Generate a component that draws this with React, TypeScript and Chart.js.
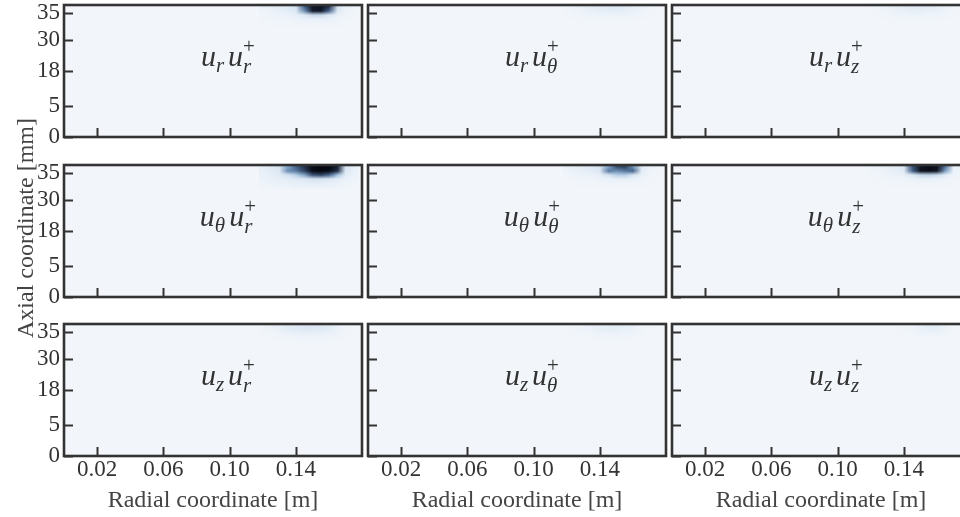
import { useEffect, useRef } from "react";
import { Chart, registerables } from "chart.js";

Chart.register(...registerables);

// Axis ticks
const radialTicks = [0.02, 0.06, 0.1, 0.14];
const axialTickPos = [0, 0.235, 0.5, 0.737, 0.94];
const axialTickLabels = ["0", "5", "18", "30", "35"];

// Sampling grid of the Reynolds-stress field near the top wall (cell centres)
const fieldR = [0.12, 0.125, 0.13, 0.135, 0.14, 0.145, 0.15, 0.155, 0.16, 0.165, 0.17, 0.175];
const fieldZ = [0.985, 0.955, 0.925, 0.895, 0.865, 0.835];

// Velocity components (rows: first factor, columns: second factor)
const components = ["r", "θ", "z"];

// Normalised intensities, one row per fieldZ entry, one column per fieldR entry
const urur = [
  [0.03, 0.05, 0.07, 0.1, 0.15, 0.55, 0.85, 0.9, 0.7, 0.15, 0.04, 0.02],
  [0.02, 0.03, 0.05, 0.07, 0.12, 0.45, 0.8, 0.85, 0.55, 0.1, 0.03, 0.01],
  [0.01, 0.02, 0.03, 0.04, 0.06, 0.12, 0.2, 0.2, 0.12, 0.05, 0.02, 0.01],
  [0.01, 0.01, 0.02, 0.02, 0.03, 0.04, 0.05, 0.05, 0.04, 0.02, 0.01, 0],
  [0, 0, 0.01, 0.01, 0.01, 0.02, 0.02, 0.02, 0.02, 0.01, 0, 0],
  [0, 0, 0, 0, 0, 0, 0, 0, 0, 0, 0, 0],
];
const urut = [
  [0.01, 0.03, 0.05, 0.07, 0.08, 0.09, 0.1, 0.09, 0.06, 0.03, 0.01, 0],
  [0.01, 0.02, 0.03, 0.05, 0.06, 0.07, 0.07, 0.06, 0.04, 0.02, 0.01, 0],
  [0, 0.01, 0.02, 0.02, 0.03, 0.03, 0.03, 0.03, 0.02, 0.01, 0, 0],
  [0, 0, 0.01, 0.01, 0.01, 0.01, 0.01, 0.01, 0.01, 0, 0, 0],
  [0, 0, 0, 0, 0, 0, 0, 0, 0, 0, 0, 0],
  [0, 0, 0, 0, 0, 0, 0, 0, 0, 0, 0, 0],
];
const uruz = [
  [0, 0.01, 0.03, 0.05, 0.07, 0.08, 0.09, 0.08, 0.06, 0.03, 0.01, 0],
  [0, 0.01, 0.02, 0.04, 0.05, 0.06, 0.06, 0.05, 0.04, 0.02, 0.01, 0],
  [0, 0, 0.01, 0.02, 0.02, 0.03, 0.03, 0.02, 0.02, 0.01, 0, 0],
  [0, 0, 0, 0.01, 0.01, 0.01, 0.01, 0.01, 0.01, 0, 0, 0],
  [0, 0, 0, 0, 0, 0, 0, 0, 0, 0, 0, 0],
  [0, 0, 0, 0, 0, 0, 0, 0, 0, 0, 0, 0],
];
const utur = [
  [0.06, 0.1, 0.15, 0.4, 0.55, 0.7, 0.95, 1.0, 1.0, 0.75, 0.15, 0.05],
  [0.05, 0.08, 0.12, 0.45, 0.5, 0.65, 0.95, 1.0, 0.95, 0.7, 0.12, 0.04],
  [0.04, 0.06, 0.09, 0.15, 0.25, 0.4, 0.6, 0.65, 0.55, 0.3, 0.08, 0.03],
  [0.03, 0.05, 0.06, 0.08, 0.1, 0.12, 0.15, 0.15, 0.12, 0.08, 0.04, 0.02],
  [0.02, 0.03, 0.04, 0.05, 0.06, 0.07, 0.08, 0.08, 0.06, 0.04, 0.02, 0.01],
  [0.01, 0.01, 0.02, 0.02, 0.03, 0.03, 0.03, 0.03, 0.03, 0.02, 0.01, 0],
];
const utut = [
  [0.03, 0.06, 0.08, 0.1, 0.14, 0.4, 0.6, 0.65, 0.45, 0.1, 0.03, 0.01],
  [0.02, 0.04, 0.06, 0.08, 0.12, 0.5, 0.45, 0.5, 0.55, 0.08, 0.02, 0.01],
  [0.01, 0.02, 0.03, 0.04, 0.06, 0.15, 0.25, 0.25, 0.15, 0.05, 0.01, 0],
  [0, 0.01, 0.02, 0.02, 0.03, 0.04, 0.05, 0.05, 0.04, 0.02, 0.01, 0],
  [0, 0, 0.01, 0.01, 0.01, 0.02, 0.02, 0.02, 0.01, 0.01, 0, 0],
  [0, 0, 0, 0, 0, 0, 0, 0, 0, 0, 0, 0],
];
const utuz = [
  [0.02, 0.03, 0.05, 0.07, 0.12, 0.6, 0.85, 0.95, 0.9, 0.5, 0.05, 0.01],
  [0.01, 0.02, 0.04, 0.06, 0.1, 0.55, 0.9, 0.95, 0.85, 0.4, 0.04, 0.01],
  [0.01, 0.01, 0.02, 0.03, 0.05, 0.12, 0.2, 0.22, 0.18, 0.08, 0.02, 0],
  [0, 0.01, 0.01, 0.02, 0.02, 0.03, 0.05, 0.05, 0.04, 0.02, 0.01, 0],
  [0, 0, 0, 0.01, 0.01, 0.01, 0.02, 0.02, 0.01, 0.01, 0, 0],
  [0, 0, 0, 0, 0, 0, 0, 0, 0, 0, 0, 0],
];
const uzur = [
  [0.01, 0.03, 0.06, 0.08, 0.1, 0.12, 0.12, 0.11, 0.08, 0.04, 0.01, 0],
  [0.01, 0.02, 0.05, 0.07, 0.09, 0.1, 0.1, 0.09, 0.07, 0.03, 0.01, 0],
  [0, 0.01, 0.02, 0.03, 0.04, 0.05, 0.05, 0.04, 0.03, 0.02, 0, 0],
  [0, 0, 0.01, 0.01, 0.02, 0.02, 0.02, 0.02, 0.01, 0.01, 0, 0],
  [0, 0, 0, 0, 0, 0.01, 0.01, 0.01, 0, 0, 0, 0],
  [0, 0, 0, 0, 0, 0, 0, 0, 0, 0, 0, 0],
];
const uzut = [
  [0, 0.01, 0.02, 0.04, 0.06, 0.07, 0.08, 0.07, 0.05, 0.02, 0.01, 0],
  [0, 0.01, 0.02, 0.03, 0.05, 0.06, 0.06, 0.05, 0.04, 0.02, 0, 0],
  [0, 0, 0.01, 0.01, 0.02, 0.02, 0.03, 0.02, 0.02, 0.01, 0, 0],
  [0, 0, 0, 0, 0.01, 0.01, 0.01, 0.01, 0, 0, 0, 0],
  [0, 0, 0, 0, 0, 0, 0, 0, 0, 0, 0, 0],
  [0, 0, 0, 0, 0, 0, 0, 0, 0, 0, 0, 0],
];
const uzuz = [
  [0, 0, 0, 0, 0.01, 0.02, 0.05, 0.08, 0.07, 0.03, 0, 0],
  [0, 0, 0, 0, 0.01, 0.02, 0.04, 0.06, 0.05, 0.02, 0, 0],
  [0, 0, 0, 0, 0, 0.01, 0.02, 0.02, 0.02, 0.01, 0, 0],
  [0, 0, 0, 0, 0, 0, 0, 0, 0, 0, 0, 0],
  [0, 0, 0, 0, 0, 0, 0, 0, 0, 0, 0, 0],
  [0, 0, 0, 0, 0, 0, 0, 0, 0, 0, 0, 0],
];

const fields = [
  [urur, urut, uruz],
  [utur, utut, utuz],
  [uzur, uzut, uzuz],
];

// Figure geometry
const COL_LEFT = [64, 368, 672];
const ROW_TOP = [5, 165, 324];
const PANEL_W = 298;
const PANEL_H = 132;

const SERIF = "'Liberation Serif', 'DejaVu Serif', serif";
const INK = "#333333";
const TITLE_INK = "#444444";
const BG: [number, number, number] = [242, 246, 251];

// Sequential blue-to-black colour ramp
const ramp: [number, [number, number, number]][] = [
  [0, BG],
  [0.15, [214, 228, 242]],
  [0.35, [150, 185, 218]],
  [0.55, [70, 100, 140]],
  [0.75, [25, 35, 55]],
  [1, [5, 8, 15]],
];

function shade(v: number): [number, number, number] {
  const t = Math.max(0, Math.min(1, v));
  for (let i = 1; i < ramp.length; i++) {
    const [t1, c1] = ramp[i];
    const [t0, c0] = ramp[i - 1];
    if (t <= t1) {
      const f = (t - t0) / (t1 - t0);
      return [0, 1, 2].map((k) => Math.round(c0[k] + (c1[k] - c0[k]) * f)) as [number, number, number];
    }
  }
  return ramp[ramp.length - 1][1];
}

function drawMathLabel(ctx: CanvasRenderingContext2D, cx: number, base: number, a: string, b: string) {
  const main = `italic 30px ${SERIF}`;
  const sub = `italic 21px ${SERIF}`;
  const supF = `21px ${SERIF}`;
  ctx.font = main;
  const wu = ctx.measureText("u").width;
  ctx.font = sub;
  const wa = ctx.measureText(a).width;
  const wb = ctx.measureText(b).width;
  ctx.font = supF;
  const wp = ctx.measureText("+").width;
  const gap = 4;
  const total = wu + wa + gap + wu + Math.max(wb, wp);
  let x = cx - total / 2;
  ctx.fillStyle = INK;
  ctx.textBaseline = "alphabetic";
  ctx.textAlign = "left";
  ctx.font = main;
  ctx.fillText("u", x, base);
  x += wu;
  ctx.font = sub;
  ctx.fillText(a, x, base + 6);
  x += wa + gap;
  ctx.font = main;
  ctx.fillText("u", x, base);
  x += wu;
  ctx.font = sub;
  ctx.fillText(b, x, base + 7);
  ctx.font = supF;
  ctx.fillText("+", x, base - 13);
}

function Panel({ row, col }: { row: number; col: number }) {
  const ref = useRef<HTMLCanvasElement | null>(null);
  const padL = col === 0 ? 64 : 4;
  const padB = row === 2 ? 62 : 6;
  // room around the middle-left panel for the shared axial title
  const extraV = row === 1 && col === 0 ? 115 : 0;
  const width = padL + PANEL_W + 4;
  const height = 5 + extraV + PANEL_H + padB + extraV;

  useEffect(() => {
    const canvas = ref.current;
    if (!canvas) return;
    const grid = fields[row][col];

    const fieldPlugin = {
      id: "stressField",
      beforeDatasetsDraw(chart: any) {
        const { ctx, chartArea: a, scales } = chart;
        const xs = scales.x;
        const ys = scales.y;
        ctx.save();
        ctx.fillStyle = `rgb(${BG.join(",")})`;
        ctx.fillRect(a.left, a.top, a.width, a.height);

        const off = document.createElement("canvas");
        off.width = fieldR.length;
        off.height = fieldZ.length;
        const octx = off.getContext("2d")!;
        const img = octx.createImageData(off.width, off.height);
        grid.forEach((line, j) => {
          line.forEach((v, i) => {
            const [r, g, b] = shade(v);
            const k = (j * off.width + i) * 4;
            img.data[k] = r;
            img.data[k + 1] = g;
            img.data[k + 2] = b;
            img.data[k + 3] = 255;
          });
        });
        octx.putImageData(img, 0, 0);

        const dr = (fieldR[1] - fieldR[0]) / 2;
        const dz = (fieldZ[0] - fieldZ[1]) / 2;
        const x0 = xs.getPixelForValue(fieldR[0] - dr);
        const x1 = xs.getPixelForValue(fieldR[fieldR.length - 1] + dr);
        const y0 = ys.getPixelForValue(fieldZ[0] + dz);
        const y1 = ys.getPixelForValue(fieldZ[fieldZ.length - 1] - dz);
        ctx.beginPath();
        ctx.rect(a.left, a.top, a.width, a.height);
        ctx.clip();
        ctx.imageSmoothingEnabled = true;
        ctx.drawImage(off, x0, y0, x1 - x0, y1 - y0);
        ctx.restore();
      },
      afterDraw(chart: any) {
        const { ctx, chartArea: a, scales } = chart;
        const xs = scales.x;
        const ys = scales.y;
        ctx.save();
        ctx.strokeStyle = INK;
        ctx.lineWidth = 2;
        // inward tick marks
        radialTicks.forEach((v) => {
          const px = Math.round(xs.getPixelForValue(v)) + 0.5;
          ctx.beginPath();
          ctx.moveTo(px, a.bottom);
          ctx.lineTo(px, a.bottom - 9);
          ctx.stroke();
        });
        axialTickPos.forEach((v) => {
          const py = Math.round(ys.getPixelForValue(v)) + 0.5;
          ctx.beginPath();
          ctx.moveTo(a.left, py);
          ctx.lineTo(a.left + 9, py);
          ctx.stroke();
        });
        // frame
        ctx.lineWidth = 2.6;
        ctx.strokeRect(a.left, a.top, a.width, a.height);
        // component label
        drawMathLabel(
          ctx,
          a.left + a.width * 0.55,
          a.top + a.height * 0.46,
          components[row],
          components[col]
        );
        // shared axial-coordinate title
        if (extraV > 0) {
          ctx.translate(27, a.top + a.height / 2 - 3);
          ctx.rotate(-Math.PI / 2);
          ctx.font = `24px ${SERIF}`;
          ctx.fillStyle = TITLE_INK;
          ctx.textAlign = "center";
          ctx.textBaseline = "middle";
          ctx.fillText("Axial coordinate [mm]", 0, 0);
        }
        ctx.restore();
      },
    };

    const chart = new Chart(canvas, {
      type: "scatter",
      data: { datasets: [] },
      plugins: [fieldPlugin],
      options: {
        responsive: false,
        animation: false,
        devicePixelRatio: 1,
        layout: { padding: { top: 5 + extraV, right: 4, left: 0, bottom: 0 } },
        plugins: { legend: { display: false }, tooltip: { enabled: false } },
        scales: {
          x: {
            type: "linear",
            position: "bottom",
            min: 0,
            max: 0.18,
            afterBuildTicks: (s: any) => {
              s.ticks = radialTicks.map((v) => ({ value: v }));
            },
            afterFit: (s: any) => {
              s.height = padB + extraV;
              s.paddingLeft = 0;
              s.paddingRight = 0;
            },
            grid: { display: false, drawTicks: false },
            border: { display: false },
            ticks: {
              display: row === 2,
              autoSkip: false,
              color: INK,
              padding: 0,
              maxRotation: 0,
              font: { family: SERIF, size: 23 },
              callback: (v: any) => Number(v).toFixed(2),
            },
            title: {
              display: row === 2,
              text: "Radial coordinate [m]",
              color: TITLE_INK,
              font: { family: SERIF, size: 24 },
              padding: { top: 0, bottom: 3 },
            },
          },
          y: {
            type: "linear",
            position: "left",
            min: 0,
            max: 1,
            afterBuildTicks: (s: any) => {
              s.ticks = axialTickPos.map((v) => ({ value: v }));
            },
            afterFit: (s: any) => {
              s.width = padL;
              s.paddingTop = 0;
              s.paddingBottom = 0;
            },
            grid: { display: false, drawTicks: false },
            border: { display: false },
            ticks: {
              display: col === 0,
              autoSkip: false,
              color: INK,
              padding: 4,
              font: { family: SERIF, size: 23 },
              callback: (_v: any, i: number) => axialTickLabels[i],
            },
            title: { display: false },
          },
        },
      },
    } as any);
    return () => chart.destroy();
  }, [row, col, padL, padB, extraV]);

  return (
    <canvas
      ref={ref}
      width={width}
      height={height}
      style={{
        position: "absolute",
        left: COL_LEFT[col] - padL,
        top: ROW_TOP[row] - 5 - extraV,
        width,
        height,
      }}
    />
  );
}

export default function App() {
  const cells: [number, number][] = [];
  for (let r = 0; r < 3; r++) for (let c = 0; c < 3; c++) cells.push([r, c]);
  return (
    <div
      style={{
        position: "fixed",
        left: 0,
        top: 0,
        width: 960,
        height: 517,
        overflow: "hidden",
        background: "#ffffff",
      }}
    >
      {cells.map(([r, c]) => (
        <Panel key={`${r}-${c}`} row={r} col={c} />
      ))}
    </div>
  );
}
